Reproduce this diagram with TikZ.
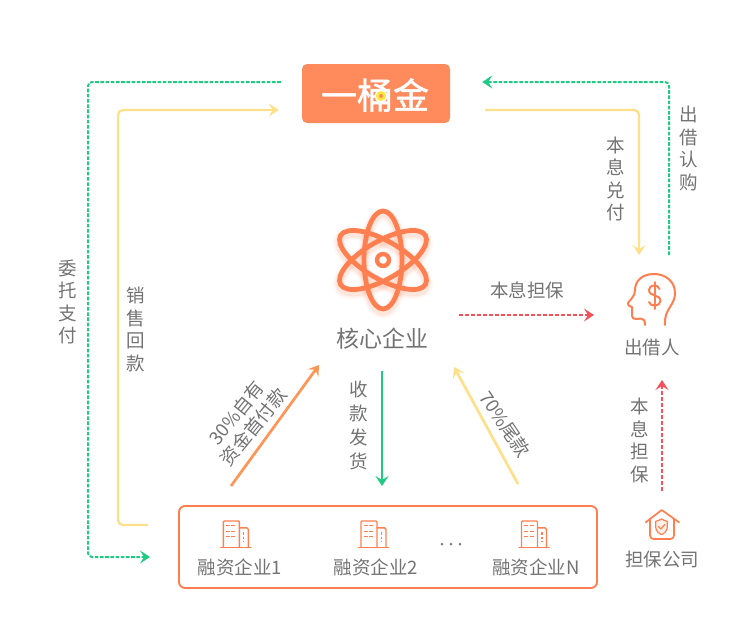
\documentclass[tikz,border=0pt]{standalone}
\usepackage{fontspec}
\setmainfont{Noto Sans CJK SC}
\newfontfamily\logofont[FakeBold=1.2]{Noto Sans CJK SC}
\usetikzlibrary{arrows.meta,calc}
\definecolor{org}{HTML}{FF7F50}
\definecolor{logoorg}{HTML}{FF8A5C}
\definecolor{grn}{HTML}{1FCB83}
\definecolor{yel}{HTML}{FFE08A}
\definecolor{coin}{HTML}{FFE83C}
\definecolor{rdd}{HTML}{F4525A}
\definecolor{arrorg}{HTML}{FF9657}
\definecolor{txt}{HTML}{737373}
\tikzset{
  lbl/.style={text=txt,font=\fontsize{18.5}{22.6}\selectfont,align=center,inner sep=0pt},
  tip/.style={-{Stealth[length=10pt,width=13pt,inset=4pt]}},
  grnd/.style={grn,line width=2pt,dash pattern=on 3.6pt off 1.6pt,rounded corners=4pt,tip},
  yell/.style={yel,line width=2.4pt,rounded corners=5pt,tip},
  rddd/.style={rdd,line width=1.9pt,dash pattern=on 4pt off 2pt,tip},
  icon/.style={org,line width=2pt,line cap=round,line join=round},
  pics/bld/.style={code={
    \draw[icon,line width=1.4pt] (-18,0) -- (12,0);
    \draw[icon,line width=1.4pt] (-15.5,0) -- (-15.5,-25) [rounded corners=1pt] -- (-15.5,-26.3) -- (0.5,-26.3) -- (0.5,0);
    \draw[icon,line width=1.4pt] (0.5,-19.5) -- (8,-19.5) -- (9.5,-18) -- (9.5,0);
    \foreach \yy in {-21.5,-16,-10.5}{
      \draw[org,line width=1.2pt,dash pattern=on 4pt off 1.5pt] (-13,\yy) -- (-2,\yy);}
    \draw[org,line width=1.2pt,dash pattern=on 2.4pt off 2pt] (5,-15) -- (5,-5);
  }}
}
\begin{document}
\begin{tikzpicture}[x=1pt,y=-1pt]
\useasboundingbox (0,0) rectangle (750,640);
% logo
\node[fill=logoorg,rounded corners=5pt,minimum width=148pt,minimum height=59pt,inner sep=0pt] (logo) at (376,93.5) {};
\node[text=white,font=\fontsize{36}{36}\logofont,inner sep=0pt] (logotxt) at (375,95) {一桶金};
\fill[white] (381,96) circle (6.5);
\fill[coin] (381,96) circle (5);
\fill[logoorg] (381,96) circle (2);
% atom
\foreach \lw/\op in {13/0.05,10/0.07,7.5/0.09}{
\foreach \ang in {0,60,-60}{
  \draw[org,opacity=\op,line width=\lw pt,rotate around={\ang:(383,263)}] (383,263) ellipse [x radius=19,y radius=49];
}}
\foreach \ang in {0,60,-60}{
  \draw[org,line width=4.8pt,rotate around={\ang:(383,260)}] (383,260) ellipse [x radius=19,y radius=49];
}
\draw[org,line width=4.4pt] (383,260) circle (6);
\node[lbl,font=\fontsize{23}{26}\selectfont] (core) at (382,339) {核心企业};
% investor head
\draw[icon] (665,325) .. controls (664.5,316) and (667,312) .. (670,307) .. controls (674,301) and (675,297) .. (675,293)
  .. controls (675,281) and (665,274) .. (654,274) .. controls (642,274) and (635,281) .. (635,290)
  .. controls (635,293) and (634,296) .. (632,298) -- (628,303) .. controls (627,305) and (629,306) .. (632,307)
  -- (632,316) .. controls (632,318) and (634,319) .. (636,319) -- (641,318.5) .. controls (644,318.5) and (645,321) .. (645,325);
\draw[icon] (659.5,289) .. controls (658.5,286) and (656,285.5) .. (654.5,285.5) .. controls (651,285.5) and (649,287.5) .. (649,290)
  .. controls (649,297) and (660.5,294) .. (660.5,301) .. controls (660.5,303.5) and (658,305.5) .. (654.5,305.5) .. controls (652,305.5) and (649.5,304.5) .. (649,302);
\draw[icon] (654.5,282) -- (654.5,309);
\node[lbl] (inv) at (652,347.5) {出借人};
% guarantor house
\draw[icon,line width=1.7pt] (645.7,522.3) -- (661.7,510) -- (679,522.3);
\draw[icon,line width=1.7pt,rounded corners=3.5pt] (650,519) -- (650,539) -- (674,539) -- (674,519);
\draw[icon,line width=1.2pt,fill=org!12] (661.5,519) .. controls (658,521) and (656,521) .. (655.7,521.3) -- (655.7,527) .. controls (655.7,531) and (659,533.5) .. (661.5,534.7) .. controls (664,533.5) and (667.3,531) .. (667.3,527) -- (667.3,521.3) .. controls (667,521) and (665,521) .. (661.5,519) -- cycle;
\draw[icon,line width=1.2pt] (658.5,526.5) -- (660.8,529) -- (664.8,524.5);
\node[lbl] (gua) at (662,559) {担保公司};
% enterprises box
\node[draw=org,line width=1.9pt,rounded corners=6pt,minimum width=418pt,minimum height=82pt,inner sep=0pt] (ents) at (388,547) {};
\pic at (238.8,547.3) {bld};
\pic at (376.5,547.3) {bld};
\pic at (537,547.3) {bld};
\node[lbl] (e1) at (240,567) {融资企业1};
\node[lbl] (e2) at (376,567) {融资企业2};
\node[lbl] (e3) at (536,567) {融资企业N};
\node[inner sep=0pt] (dots) at (451,544) {\tikz[x=1pt,y=1pt]{\foreach \i in {0,9,18}\fill[txt!90] (\i,0) circle (1.5);}};
% connector ends
\coordinate (g1a) at ($(logo.west)+(-21,-11.5)$);
\coordinate (g1b) at ($(ents.west)+(-28,10)$);
\coordinate (y1a) at ($(ents.west)+(-30,-22)$);
\coordinate (y1b) at ($(logo.west)+(-23,16.5)$);
\coordinate (y2a) at ($(logo.east)+(35,16.5)$);
\coordinate (y2b) at (639,255);
\coordinate (g2a) at (669,255);
\coordinate (g2b) at ($(logo.east)+(32,-11.5)$);
% connectors
\draw[grnd] (g1a) -- (88,82) -- (88,557) -- (g1b);
\draw[yell] (y1a) -- (118,525) -- (118,110) -- (y1b);
\draw[yell] (y2a) -- (639,110) -- (y2b);
\draw[grnd] (g2a) -- (669,82) -- (g2b);
\coordinate (r1a) at (459,315);
\coordinate (r1b) at (594,315);
\draw[rddd] (r1a) -- (r1b);
\coordinate (r2a) at (662,491);
\coordinate (r2b) at (662,380);
\draw[rddd] (r2a) -- (r2b);
\coordinate (s1a) at (382,371);
\coordinate (s1b) at (382,486);
\draw[grn,line width=2.7pt,tip] (s1a) -- (s1b);
\coordinate (o1a) at (231,486);
\coordinate (o1b) at (319,365);
\draw[arrorg,line width=2.7pt,tip] (o1a) -- (o1b);
\coordinate (o2a) at (518,484);
\coordinate (o2b) at (454,367);
\draw[yel,line width=2.7pt,tip] (o2a) -- (o2b);
% labels
\node[lbl] (l1) at (68,302) {委\\托\\支\\付};
\node[lbl] (l2) at (136,329.5) {销\\售\\回\\款};
\node[lbl] (l3) at (616,179) {本\\息\\兑\\付};
\node[lbl] (l4) at (689,148.5) {出\\借\\认\\购};
\node[lbl] (l5) at (527,290) {本息担保};
\node[lbl] (l6) at (640,440.5) {本\\息\\担\\保};
\node[lbl,font=\fontsize{18.5}{24}\selectfont] (l7) at (359,425) {收\\款\\发\\货};
\node[lbl,rotate=51,font=\fontsize{18.5}{22}\selectfont] (l8) at (245,420) {30\%自有\\资金首付款};
\node[lbl,rotate=-56] (l9) at (505,424) {70\%尾款};
\end{tikzpicture}
\end{document}
